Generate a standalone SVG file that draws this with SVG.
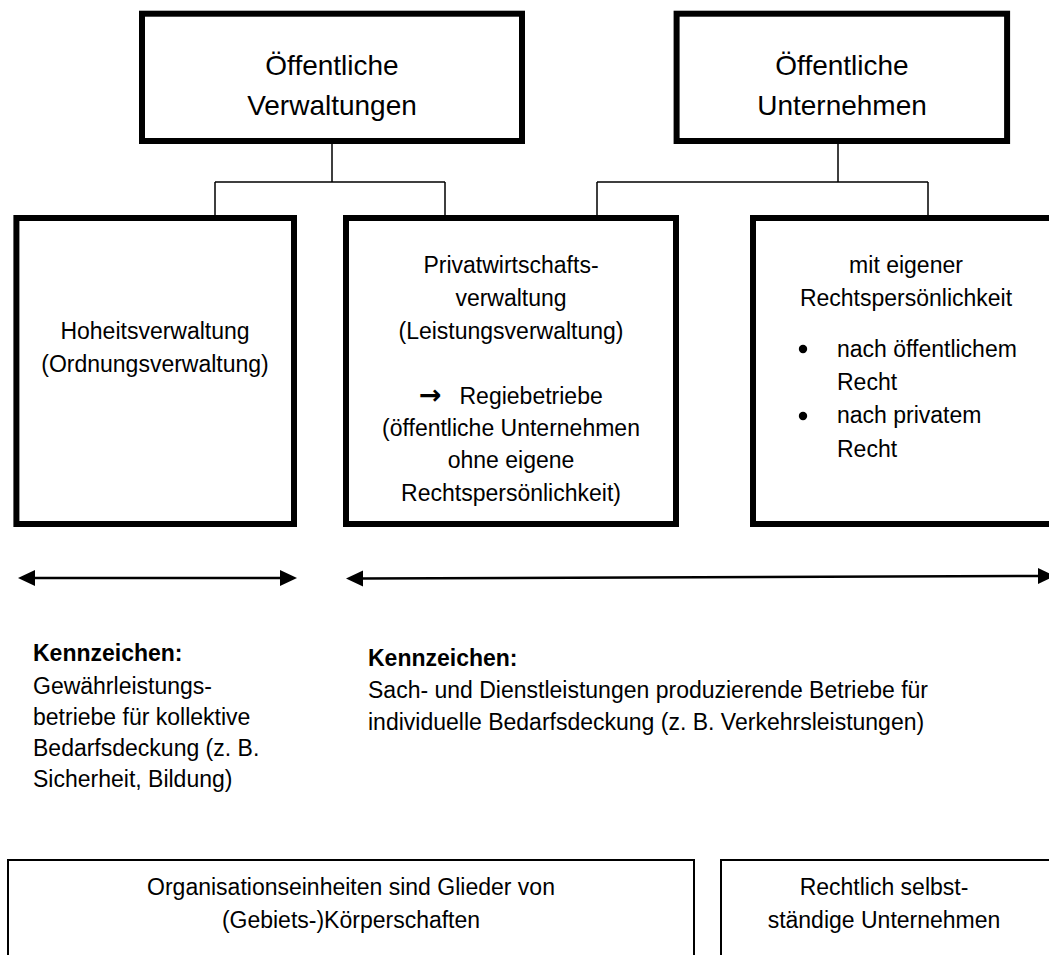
<svg xmlns="http://www.w3.org/2000/svg" width="1049" height="955" viewBox="0 0 1049 955">
<style>
text{font-family:"Liberation Sans",Arial,sans-serif;fill:#000;font-size:23px}
.c{text-anchor:middle}
.t{font-size:28px}
.b{font-weight:bold}
.sym{font-family:"DejaVu Sans",sans-serif;font-size:27px;font-weight:bold}
.thick{fill:#fff;stroke:#000;stroke-width:6}
.thin{fill:#fff;stroke:#000;stroke-width:2}
.conn{fill:none;stroke:#000;stroke-width:1.5}
.arr{fill:none;stroke:#000;stroke-width:2.5}
</style>
<rect width="1049" height="955" fill="#fff"/>
<g id="connectors">
<path class="conn" d="M332,144 V182 M215,182 H445 M215,182 V215 M445,182 V215"/>
<path class="conn" d="M838,144 V182 M597,182 H928 M597,182 V215 M928,182 V215"/>
</g>
<g id="n-verwaltungen">
<rect class="thick" x="142" y="13.7" width="380" height="127.3"/>
<text class="c t" x="332" y="75">Öffentliche</text>
<text class="c t" x="332" y="115">Verwaltungen</text>
</g>
<g id="n-unternehmen">
<rect class="thick" x="676.6" y="13.7" width="330.5" height="127.3"/>
<text class="c t" x="842" y="75">Öffentliche</text>
<text class="c t" x="842" y="115">Unternehmen</text>
</g>
<g id="n-hoheit">
<rect class="thick" x="16.4" y="218" width="277.6" height="306"/>
<text class="c" x="155" y="339">Hoheitsverwaltung</text>
<text class="c" x="155" y="372">(Ordnungsverwaltung)</text>
</g>
<g id="n-privat">
<rect class="thick" x="346" y="218" width="330" height="306"/>
<text class="c" x="511" y="273">Privatwirtschafts-</text>
<text class="c" x="511" y="306">verwaltung</text>
<text class="c" x="511" y="339">(Leistungsverwaltung)</text>
<text class="sym" x="419" y="404">→</text>
<text x="459.5" y="404">Regiebetriebe</text>
<text class="c" x="511" y="436">(öffentliche Unternehmen</text>
<text class="c" x="511" y="468">ohne eigene</text>
<text class="c" x="511" y="501">Rechtspersönlichkeit)</text>
</g>
<g id="n-eigene">
<rect class="thick" x="753" y="218" width="310" height="306"/>
<text class="c" x="906" y="273">mit eigener</text>
<text class="c" x="906" y="306">Rechtspersönlichkeit</text>
<circle cx="803" cy="349" r="4.2"/>
<text x="837" y="357">nach öffentlichem</text>
<text x="837" y="390">Recht</text>
<circle cx="803" cy="416" r="4.2"/>
<text x="837" y="423">nach privatem</text>
<text x="837" y="457">Recht</text>
</g>
<g id="arrows">
<line class="arr" x1="32" y1="578" x2="283" y2="578"/>
<polygon points="18,578 35,570 35,586"/>
<polygon points="297,578 280,570 280,586"/>
<line class="arr" x1="360" y1="578.5" x2="1040" y2="576"/>
<polygon points="346,578.5 363,570.5 363,586.5"/>
<polygon points="1055,576 1038,568 1038,584"/>
</g>
<g id="kennzeichen-links">
<text class="b" x="33" y="661">Kennzeichen:</text>
<text x="33" y="694">Gewährleistungs-</text>
<text x="33" y="725">betriebe für kollektive</text>
<text x="33" y="756">Bedarfsdeckung (z. B.</text>
<text x="33" y="787">Sicherheit, Bildung)</text>
</g>
<g id="kennzeichen-rechts">
<text class="b" x="368" y="666">Kennzeichen:</text>
<text x="368" y="698">Sach- und Dienstleistungen produzierende Betriebe für</text>
<text x="368" y="730">individuelle Bedarfsdeckung (z. B. Verkehrsleistungen)</text>
</g>
<g id="n-glieder">
<rect class="thin" x="8" y="860" width="686" height="120"/>
<text class="c" x="351" y="895">Organisationseinheiten sind Glieder von</text>
<text class="c" x="351" y="928">(Gebiets-)Körperschaften</text>
</g>
<g id="n-selbststaendig">
<rect class="thin" x="721" y="860" width="340" height="120"/>
<text class="c" x="884" y="895">Rechtlich selbst-</text>
<text class="c" x="884" y="928">ständige Unternehmen</text>
</g>
</svg>
